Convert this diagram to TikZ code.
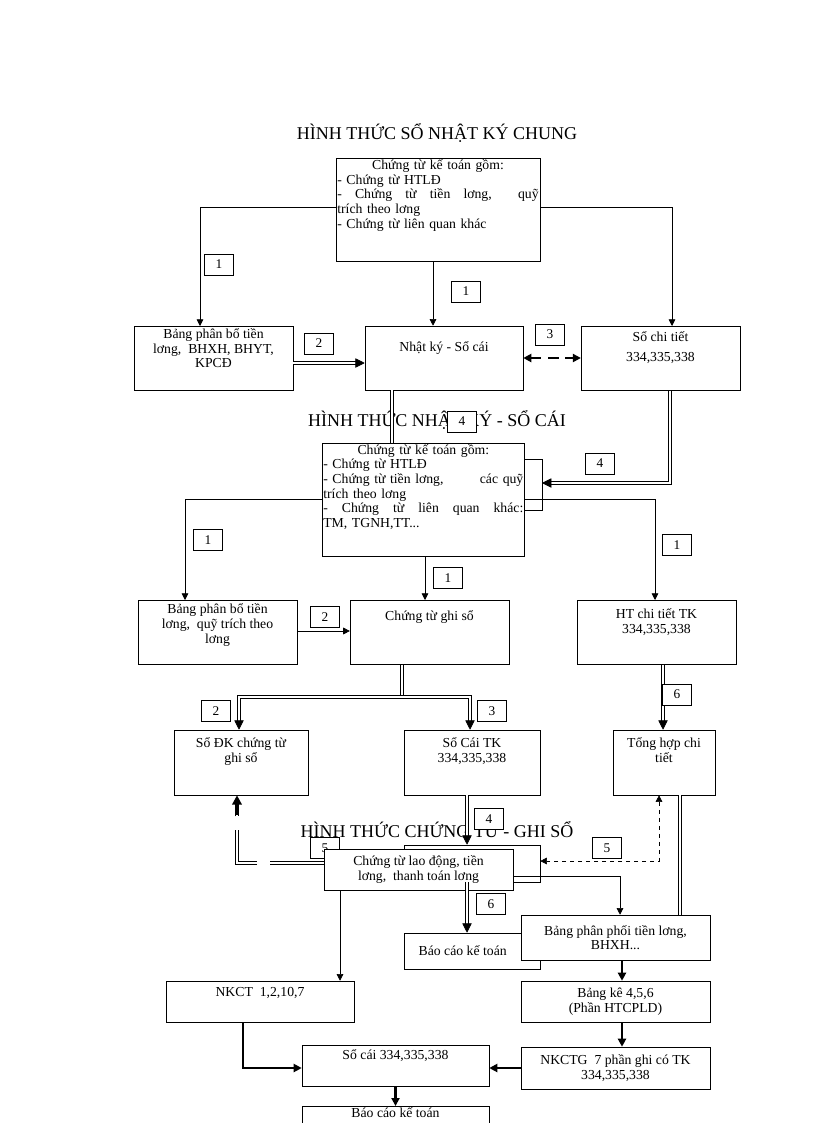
\documentclass[tikz,border=0pt]{standalone}
\usepackage{fontspec}
\setmainfont{Liberation Serif}
\usetikzlibrary{arrows.meta,calc}
\begin{document}
\begin{tikzpicture}[x=0.75pt,y=-0.75pt,
 box/.style={draw,fill=white,inner sep=1pt,align=center,font=\fontsize{10.3}{11}\selectfont},
 lbl/.style={draw,fill=white,minimum width=22pt,minimum height=16pt,inner sep=0pt,font=\fontsize{10}{10}\selectfont},
 ttl/.style={fill=white,inner sep=1pt,font=\fontsize{13.5}{14}\selectfont},
 a/.style={-{Triangle[length=5pt,width=5pt]},line width=0.5pt},
 dbl/.style={double,double distance=1.5pt,line width=0.5pt,-{Triangle[length=7pt,width=7pt]}},
 dbln/.style={double,double distance=1.5pt,line width=0.5pt},
 thick1/.style={line width=1.6pt,-{Triangle[length=6pt,width=6pt]}}]
\useasboundingbox (0,0) rectangle (816,1123);
\clip (0,0) rectangle (816,1123);
% ---------- section 1
\node[ttl] (T1) at (437,133) {HÌNH THỨC SỔ NHẬT KÝ CHUNG};
\node[box,minimum width=153pt,minimum height=77pt] (CT1) at (438,209.5) {};
\node[anchor=north west,text width=151pt,inner sep=1pt,font=\fontsize{10.3}{11}\selectfont] (CT1t) at (CT1.north west)
 {\centering Chứng từ kế toán gồm:\par\raggedright - Chứng từ HTLĐ\par
 \noindent\hbox to 151pt{-\hfil Chứng\hfil từ\hfil tiền\hfil lơng,\hfil\hfil quỹ}\par trích theo lơng\par - Chứng từ liên quan khác};
\node[box,minimum width=119pt,minimum height=48pt,anchor=north] (BPB1) at (213.5,326) {Bảng phân bổ tiền\\lơng, \ BHXH, BHYT,\\KPCĐ\\[4pt]};
\node[box,minimum width=118.5pt,minimum height=48pt] (NK1) at (444,358) {Nhật ký - Sổ cái\\[6pt]};
\node[box,minimum width=119pt,minimum height=48pt,anchor=north] (SCT1) at (660.5,326) {Sổ chi tiết\\[4pt]334,335,338\\[6pt]};
\coordinate (c1l) at (200,207);
\coordinate (c1r) at (672,207);
\draw[a] (CT1.west |- c1l) -- (c1l) -- (c1l |- BPB1.north);
\draw[a] (CT1.east |- c1r) -- (c1r) -- (c1r |- SCT1.north);
\draw[a] (CT1.south -| 433,0) -- (NK1.north -| 433,0);
\draw[dbl] (BPB1.east |- 0,363) -- (NK1.west |- 0,363);
\draw[line width=2pt,dash pattern=on 8pt off 5pt,{Triangle[length=6pt,width=6pt]}-{Triangle[length=6pt,width=6pt]}] (NK1.east |- 0,358) -- (SCT1.west |- 0,358);
\node[lbl] (L11) at (219,264.5) {1};
\node[lbl] (L12) at (466,291.5) {1};
\node[lbl] (L2) at (319,343.5) {2};
\node[lbl] (L3) at (550,334.5) {3};
% ---------- section 2
\node[ttl] (T2) at (437,420) {HÌNH THỨC NHẬT KÝ - SỔ CÁI};
\node[box,minimum width=151.5pt,minimum height=84.75pt] (CT2) at (423,499.5) {};
\draw[dbln] (NK1.south -| 392,0) -- (CT2.north -| 392,0);
\node[lbl] (L41) at (462,421.5) {4};
\draw (524,459) rectangle (542,510);
\coordinate (c2) at (670,483);
\draw[dbl] (SCT1.south -| c2) -- (c2) -- (542,483);
\node[lbl] (L42) at (600,463.5) {4};
\node[anchor=north west,text width=150pt,inner sep=1pt,font=\fontsize{10.3}{11}\selectfont] (CT2t) at (CT2.north west)
 {\centering Chứng từ kế toán gồm:\par\raggedright - Chứng từ HTLĐ\par
 \hbox to 150pt{- Chứng từ tiền lơng,\hfil các quỹ}\par trích theo lơng\par
 \hbox to 150pt{-\hfil Chứng\hfil từ\hfil liên\hfil quan\hfil khác:}\par TM, TGNH,TT...};
\node[box,minimum width=119pt,minimum height=48pt,anchor=north] (BPB2) at (217.5,600) {Bảng phân bổ tiền\\lơng, \ quỹ trích theo\\lơng\\[2pt]};
\node[box,minimum width=119pt,minimum height=48pt,anchor=north] (CSG) at (429.5,600) {Chứng từ ghi sổ\\[14pt]};
\node[box,minimum width=119pt,minimum height=48pt,anchor=north] (HT2) at (656.5,600) {HT chi tiết TK\\334,335,338\\[6pt]};
\coordinate (c2l) at (185,499);
\coordinate (c2r) at (655,499);
\draw[a] (CT2.west |- c2l) -- (c2l) -- (c2l |- BPB2.north);
\draw[a] (CT2.east |- c2r) -- (c2r) -- (c2r |- HT2.north);
\draw[a] (CT2.south -| 425,0) -- (CSG.north -| 425,0);
\draw[a] (BPB2.east |- 0,631) -- (CSG.west |- 0,631);
\node[lbl] (L21) at (208,540) {1};
\node[lbl] (L22) at (448,578) {1};
\node[lbl] (L23) at (677,545) {1};
\node[lbl] (L24) at (325,617) {2};
\node[box,minimum width=100.5pt,minimum height=48.75pt] (SDK) at (241,762.5) {Sổ ĐK chứng từ\\ghi sổ\\[8pt]};
\node[box,minimum width=102pt,minimum height=48.75pt] (SCTK) at (472,762.5) {Sổ Cái TK\\334,335,338\\[8pt]};
\node[box,minimum width=76.5pt,minimum height=48.75pt] (THCT) at (664,762.5) {Tổng hợp chi\\tiết\\[8pt]};
\coordinate (c3) at (402,697);
\draw[dbln] (CSG.south -| c3) -- (c3);
\draw[dbl] (c3) -- (239,697) -- (SDK.north -| 239,0);
\draw[dbl] (c3) -- (470,697) -- (SCTK.north -| 470,0);
\draw[dbl] (HT2.south -| 663,0) -- (THCT.north -| 663,0);
\node[lbl] (L25) at (216,711) {2};
\node[lbl] (L26) at (492,711) {3};
\node[lbl] (L27) at (677,694.5) {6};
% ---------- section 3
\node[ttl] (T3) at (437,830) {HÌNH THỨC CHỨNG TỪ - GHI SỔ};
\node[box,minimum width=102pt,minimum height=27.75pt] (SB) at (472,863.5) {};
\draw[dbl] (SCTK.south -| 467,0) -- (SB.north -| 467,0);
\node[lbl] (L31) at (489,819) {4};
\node[lbl] (L32) at (325,848) {5};
\node[box,minimum width=141.75pt,minimum height=30.75pt] (CTLD) at (418.5,869.5) {Chứng từ lao động, tiền\\lơng, \ thanh toán lơng};
\coordinate (c5) at (237,863);
\draw[double,double distance=1.5pt,line width=0.6pt,dash pattern=on 40pt off 10pt] (CTLD.west |- c5) -- (c5) -- (237,803);
\draw[line width=2pt,-{Triangle[length=7pt,width=7pt]}] (237,815) -- (SDK.south -| 237,0);
\coordinate (c6) at (659,861);
\draw[dashed,{Triangle[length=5pt,width=5pt]}-{Triangle[length=5pt,width=5pt]}] (THCT.south -| c6) -- (c6) -- (SB.east |- c6);
\node[lbl] (L33) at (607,848) {5};
\node[box,minimum width=102pt,minimum height=27pt] (BC1) at (472,951) {\hspace*{-14pt}Báo cáo kế toán};
\draw[dbl] (SB.south -| 467,0) -- (BC1.north -| 467,0);
\node[lbl] (L34) at (491,904) {6};
\node[box,minimum width=141.75pt,minimum height=33.75pt] (BPP) at (615.5,937.5) {Bảng phân phối tiền lơng,\\BHXH...};
\coordinate (c7) at (620,876);
\draw[a] (CTLD.east |- c7) -- (c7) -- (BPP.north -| c7);
\draw[dbln] (THCT.south -| 680,0) -- (BPP.north -| 680,0);
\node[box,minimum width=141pt,minimum height=30.75pt] (NKCT) at (260,1001.5) {NKCT \ 1,2,10,7\\[4pt]};
\draw[a] (CTLD.south -| 340,0) -- (NKCT.north -| 340,0);
\node[box,minimum width=141.75pt,minimum height=30.75pt] (BK) at (615.5,1001.5) {Bảng kê 4,5,6\\(Phần HTCPLD)};
\node[box,minimum width=141.75pt,minimum height=31.5pt] (NKCTG) at (615.5,1068) {NKCTG \ 7 phần ghi có TK\\334,335,338};
\node[box,minimum width=140.25pt,minimum height=30.75pt] (SC) at (395.5,1065.5) {Sổ cái 334,335,338\\[6pt]};
\node[box,minimum width=140.25pt,minimum height=22pt,anchor=north] (BC2) at (395.5,1106) {Báo cáo kế toán\\[10pt]};
\draw[thick1] (BPP.south -| 622,0) -- (BK.north -| 622,0);
\draw[thick1] (BK.south -| 622,0) -- (NKCTG.north -| 622,0);
\draw[thick1] (NKCTG.west |- 0,1068) -- (SC.east |- 0,1068);
\draw[thick1] (NKCT.south -| 243,0) -- (243,1068) -- (SC.west |- 0,1068);
\draw[thick1] (SC.south) -- (BC2.north);
\end{tikzpicture}
\end{document}
